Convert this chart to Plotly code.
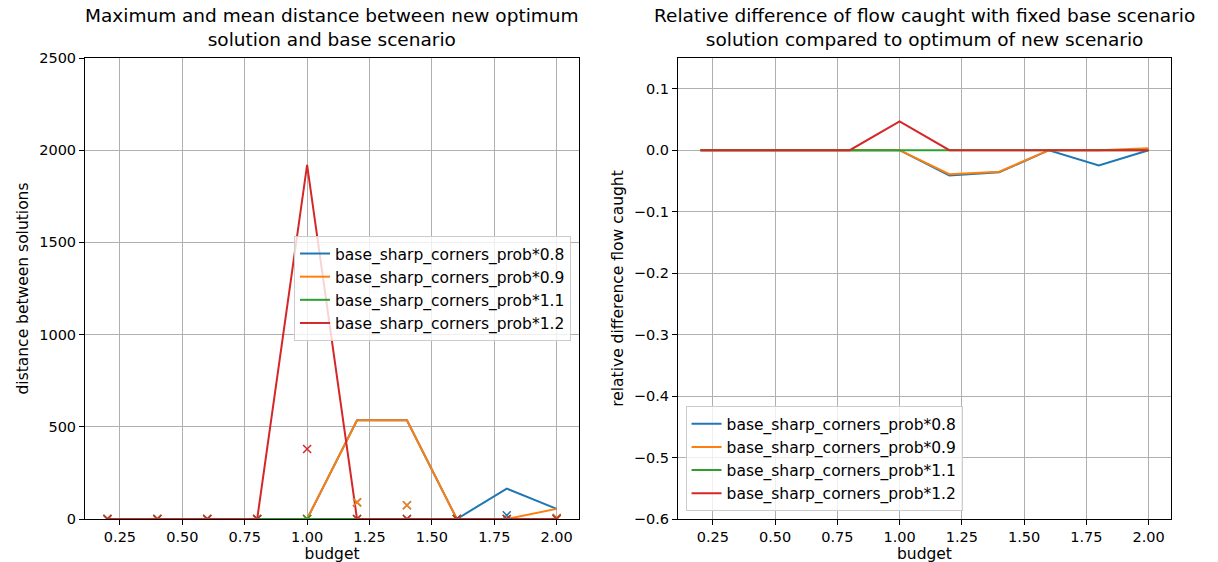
import plotly.graph_objects as go

budget = [0.2, 0.4, 0.6, 0.8, 1.0, 1.2, 1.4, 1.6, 1.8, 2.0]
names = ["base_sharp_corners_prob*0.8", "base_sharp_corners_prob*0.9",
         "base_sharp_corners_prob*1.1", "base_sharp_corners_prob*1.2"]
colors = ["#1f77b4", "#ff7f0e", "#2ca02c", "#d62728"]

# max distance between solutions (lines)
max_dist = [
    [0, 0, 0, 0, 0, 535, 535, 0, 165, 55],
    [0, 0, 0, 0, 0, 535, 535, 0, 0, 55],
    [0, 0, 0, 0, 0, 0, 0, 0, 0, 0],
    [0, 0, 0, 0, 1920, 0, 0, 0, 0, 0],
]
# mean distance (x markers)
mean_dist = [
    [0, 0, 0, 0, 0, 90, 75, 0, 20, 5],
    [0, 0, 0, 0, 0, 90, 75, 0, 0, 5],
    [0, 0, 0, 0, 0, 0, 0, 0, 0, 0],
    [0, 0, 0, 0, 380, 0, 0, 0, 0, 0],
]
# relative difference of flow caught
rel_diff = [
    [0, 0, 0, 0, 0, -0.041, -0.036, 0, -0.025, 0.0],
    [0, 0, 0, 0, 0, -0.039, -0.035, 0, 0, 0.003],
    [0, 0, 0, 0, 0, 0, 0, 0, 0, 0],
    [0, 0, 0, 0, 0.047, 0, 0, 0, 0, 0],
]

fig = go.Figure()
for i in range(4):
    fig.add_trace(go.Scatter(x=budget, y=max_dist[i], mode="lines", name=names[i],
                             line=dict(color=colors[i], width=2), legend="legend"))
for i in range(4):
    fig.add_trace(go.Scatter(x=budget, y=mean_dist[i], mode="markers", showlegend=False,
                             marker=dict(symbol="x-thin", size=8, color=colors[i],
                                         line=dict(color=colors[i], width=1.5))))
for i in range(4):
    fig.add_trace(go.Scatter(x=budget, y=rel_diff[i], mode="lines", name=names[i],
                             line=dict(color=colors[i], width=2),
                             xaxis="x2", yaxis="y2", legend="legend2"))

ax = dict(showgrid=True, gridcolor="#b0b0b0", showline=True, linecolor="black", mirror=True,
          ticks="outside", tickcolor="black", zeroline=False, automargin=False,
          tickfont=dict(size=14.5), title_font=dict(size=15.5))
ticks = [0.25, 0.5, 0.75, 1.0, 1.25, 1.5, 1.75, 2.0]
xt = dict(tickvals=ticks, ticktext=[f"{v:.2f}" for v in ticks],
          range=[0.11, 2.09], title_text="budget", title_standoff=2)
legend_style = dict(bgcolor="rgba(255,255,255,0.8)", bordercolor="#cccccc", borderwidth=1,
                    font=dict(size=15.5))

fig.update_layout(
    width=1218, height=562, margin=dict(l=77, r=55, t=50, b=51),
    paper_bgcolor="white", plot_bgcolor="white",
    font=dict(family="DejaVu Sans", color="black"),
    xaxis=dict(ax, domain=[0, 0.455], anchor="y", **xt),
    yaxis=dict(ax, domain=[0, 1], anchor="x", range=[0, 2500], dtick=500,
               title_text="distance between solutions", title_standoff=6),
    xaxis2=dict(ax, domain=[0.546, 1], anchor="y2", **xt),
    yaxis2=dict(ax, domain=[0, 1], anchor="x2", range=[-0.6, 0.15], dtick=0.1,
                tickformat=".1f", title_text="relative difference flow caught", title_standoff=6),
    legend=dict(legend_style, x=0.4475, xanchor="right", y=0.614, yanchor="top"),
    legend2=dict(legend_style, x=0.553, xanchor="left", y=0.017, yanchor="bottom"),
    annotations=[
        dict(text="Maximum and mean distance between new optimum<br>solution and base scenario",
             x=0.2275, y=1.013, xref="paper", yref="paper", xanchor="center", yanchor="bottom",
             showarrow=False, font=dict(size=18.5)),
        dict(text="Relative difference of flow caught with fixed base scenario<br>solution compared to optimum of new scenario",
             x=0.773, y=1.013, xref="paper", yref="paper", xanchor="center", yanchor="bottom",
             showarrow=False, font=dict(size=18.5)),
    ],
)
fig.write_html("out.html")
